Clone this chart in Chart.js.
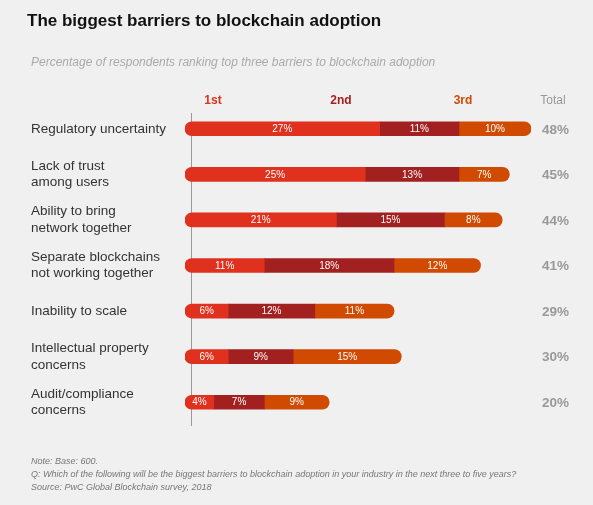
<!DOCTYPE html>
<html><head><meta charset="utf-8">
<script src="https://cdn.jsdelivr.net/npm/chart.js@4"></script>
<style>html,body{margin:0;background:#f1f0f0}#wrap{width:593px;height:505px}</style>
</head><body><div id="wrap"><canvas id="c"></canvas></div>
<script>
let barriers = [["Regulatory uncertainty"], ["Lack of trust", "among users"], ["Ability to bring", "network together"], ["Separate blockchains", "not working together"], ["Inability to scale"], ["Intellectual property", "concerns"], ["Audit/compliance", "concerns"]];
let first = [27, 25, 21, 11, 6, 6, 4];
let second = [11, 13, 15, 18, 12, 9, 7];
let third = [10, 7, 8, 12, 11, 15, 9];
let totals = [48, 45, 44, 41, 29, 30, 20];
let headers = ["1st", "2nd", "3rd"];
let colors = ["#e0301e", "#a32020", "#d04a02"];

let extras = {
  id: 'extras',
  beforeDatasetsDraw(chart) {
    let ctx = chart.ctx;
    ctx.save();
    ctx.strokeStyle = '#999'; ctx.lineWidth = 1;
    ctx.beginPath(); ctx.moveTo(191.5, 113); ctx.lineTo(191.5, 426); ctx.stroke();
    ctx.restore();
  },
  afterDraw(chart) {
    let ctx = chart.ctx, y = chart.scales.y;
    ctx.save();
    ctx.textBaseline = 'middle';
    ctx.fillStyle = '#111';
    ctx.font = 'bold 17px "Liberation Sans", Arial';
    ctx.fillText('The biggest barriers to blockchain adoption', 27, 21);
    ctx.fillStyle = '#aaa';
    ctx.font = 'italic 12px "Liberation Sans", Arial';
    ctx.fillText('Percentage of respondents ranking top three barriers to blockchain adoption', 31, 63);
    ctx.font = 'bold 12px "Liberation Sans", Arial';
    let hx = [213, 341, 463];
    headers.forEach((h, i) => { ctx.fillStyle = colors[i]; ctx.textAlign = 'center'; ctx.fillText(h, hx[i], 101); });
    ctx.fillStyle = '#999'; ctx.font = '12px "Liberation Sans", Arial';
    ctx.fillText('Total', 553, 101);
    barriers.forEach((lines, i) => {
      let cy = y.getPixelForValue(i);
      ctx.textAlign = 'left'; ctx.fillStyle = '#333';
      ctx.font = '13.5px "Liberation Sans", Arial';
      lines.forEach((l, j) => ctx.fillText(l, 31, cy + (j - (lines.length - 1) / 2) * 16.5));
      ctx.textAlign = 'right'; ctx.fillStyle = '#999';
      ctx.font = 'bold 13.5px "Liberation Sans", Arial';
      ctx.fillText(totals[i] + '%', 569, cy + 1);
    });
    ctx.font = '10px "Liberation Sans", Arial';
    ctx.fillStyle = '#fff';
    chart.data.datasets.forEach((ds, d) => {
      chart.getDatasetMeta(d).data.forEach((bar, i) => {
        ctx.textAlign = 'center';
        ctx.fillText(ds.data[i] + '%', (bar.base + bar.x) / 2, bar.y + 0.5);
      });
    });
    ctx.textAlign = 'left'; ctx.fillStyle = '#777';
    ctx.font = 'italic 9px "Liberation Sans", Arial';
    ctx.fillText('Note: Base: 600.', 31, 461);
    ctx.fillText('Q: Which of the following will be the biggest barriers to blockchain adoption in your industry in the next three to five years?', 31, 474);
    ctx.fillText('Source: PwC Global Blockchain survey, 2018', 31, 487);
    ctx.restore();
  }
};

new Chart(document.getElementById('c'), {
  type: 'bar',
  data: {
    labels: barriers,
    datasets: [
      { label: '1st', data: first, backgroundColor: colors[0], borderRadius: { topLeft: 7, bottomLeft: 7 }, borderSkipped: false },
      { label: '2nd', data: second, backgroundColor: colors[1], borderRadius: 0, borderSkipped: false },
      { label: '3rd', data: third, backgroundColor: colors[2], borderRadius: { topRight: 7, bottomRight: 7 }, borderSkipped: false }
    ]
  },
  options: {
    indexAxis: 'y',
    responsive: true,
    maintainAspectRatio: false,
    animation: false,
    layout: { padding: { left: 185, right: 62, top: 106, bottom: 80 } },
    datasets: { bar: { barThickness: 14 } },
    scales: {
      x: { stacked: true, min: 0, max: 48, display: false },
      y: { stacked: true, display: false }
    },
    plugins: { legend: { display: false }, tooltip: { enabled: false } }
  },
  plugins: [extras]
});
</script></body></html>
